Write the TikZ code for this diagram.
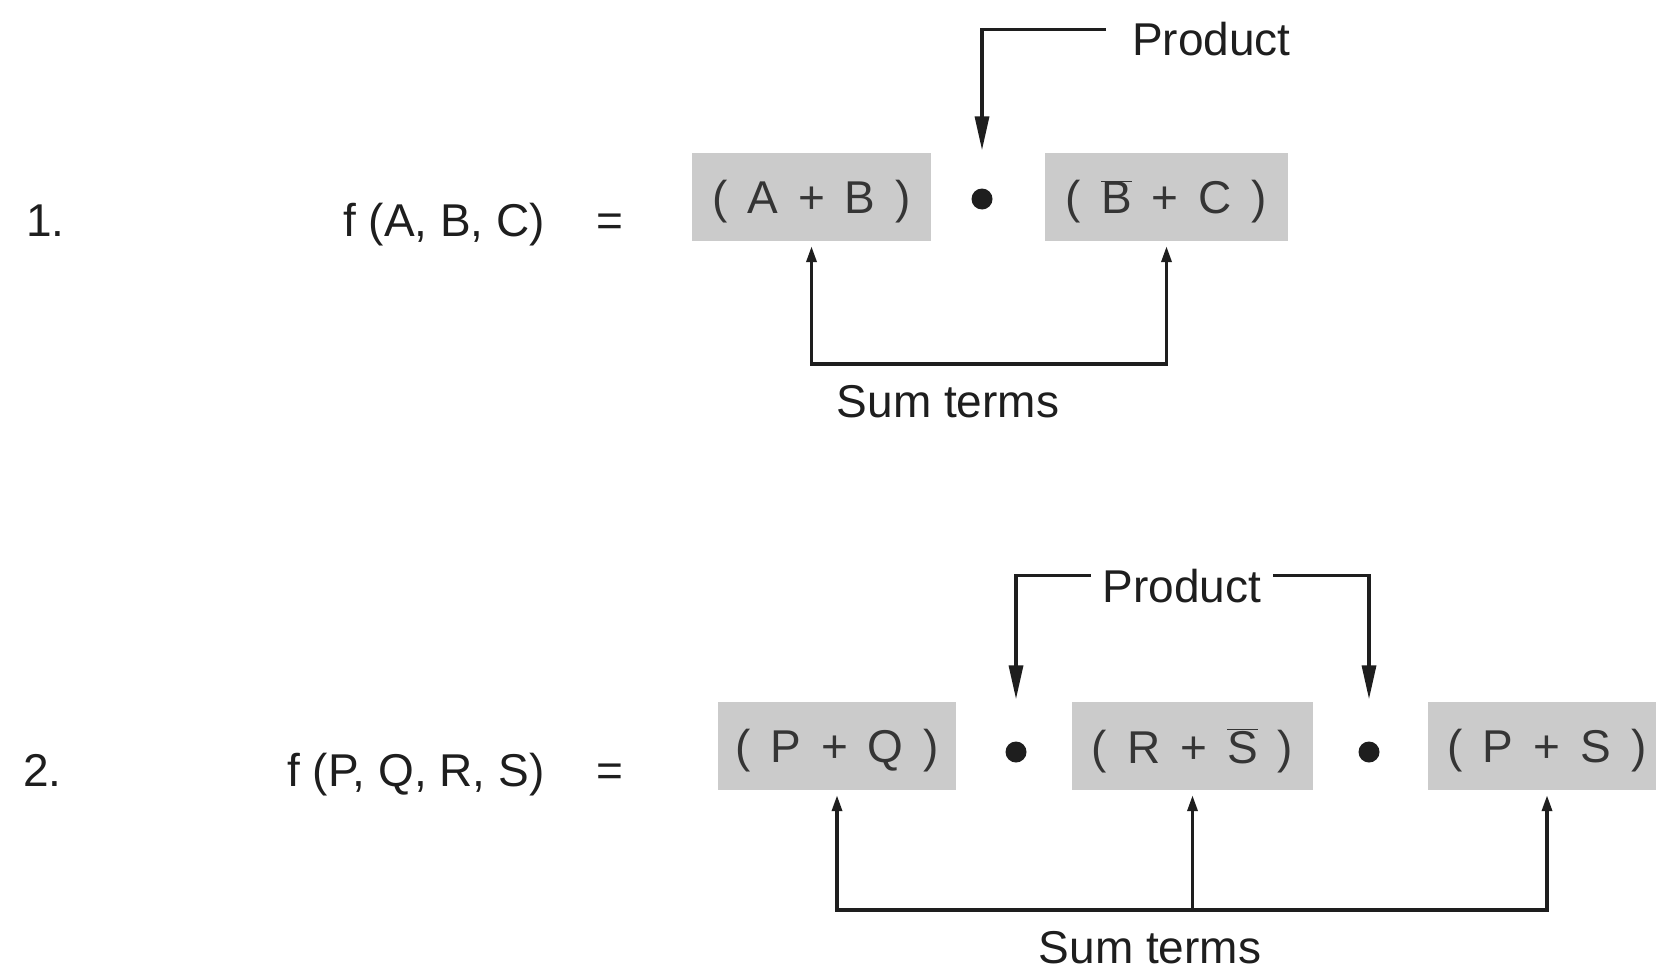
\documentclass[tikz,border=0pt]{standalone}
\usepackage{fontspec}
\setmainfont{Liberation Sans}
\usetikzlibrary{arrows.meta}
\definecolor{boxgray}{HTML}{CBCBCB}
\definecolor{ink}{HTML}{1E1E1E}
\newcommand{\tgap}{\hspace{20pt}}
\tikzset{
  lbl/.style={inner sep=0pt, text=ink, font=\fontsize{46}{50}\selectfont},
  termbox/.style={fill=boxgray, minimum height=88pt, inner sep=0pt, text depth=0pt, text=ink!90, font=\fontsize{46}{50}\selectfont},
  proddot/.style={circle, fill=ink, minimum size=21pt, inner sep=0pt},
  prodarrow/.style={draw=ink, line width=3.4pt, -{Triangle[length=34pt,width=14pt]}},
  sumboth/.style={draw=ink, line width=3.4pt, {Triangle[length=16pt,width=10pt]}-{Triangle[length=16pt,width=10pt]}, shorten <=5pt, shorten >=5pt},
  sumone/.style={draw=ink, line width=3.4pt, -{Triangle[length=16pt,width=10pt]}, shorten >=5pt},
}
\begin{document}
\begin{tikzpicture}[x=1pt,y=-1pt]
\useasboundingbox (0,0) rectangle (1656,974);
\clip (0,0) rectangle (1656,974);
\fill[white] (0,0) rectangle (1656,974);

% ---------- Row 1 ----------
\node[lbl, anchor=base west] (n1) at (26,236) {1.};
\node[lbl, anchor=base west] (f1) at (343,236) {f (A, B, C)};
\node[lbl, anchor=base] (e1) at (610,236) {=};
\node[termbox, minimum width=239pt] (b1) at (811.5,197) {(\tgap A\tgap +\tgap B\tgap )};
\node[proddot] (d1) at (982,199) {};
\node[termbox, minimum width=243pt] (b2) at (1166.5,197) {(\tgap $\overline{\mbox{B}}$\tgap +\tgap C\tgap )};
\node[lbl, anchor=base west, inner xsep=26pt] (p1) at (1106,56) {Product};
\draw[prodarrow, shorten >=38pt] ([yshift=10pt]p1.west) -| (d1.north);
\coordinate (s1) at (989,364);
\draw[sumboth] (b1.south) |- (s1) -| (b2.south);
\node[lbl, anchor=base] (st1) at (948,417) {Sum terms};

% ---------- Row 2 ----------
\node[lbl, anchor=base west] (n2) at (23,786) {2.};
\node[lbl, anchor=base west] (f2) at (287,786) {f (P, Q, R, S)};
\node[lbl, anchor=base] (e2) at (610,786) {=};
\node[termbox, minimum width=238pt] (c1) at (837,746) {(\tgap P\tgap +\tgap Q\tgap )};
\node[proddot] (d2) at (1016,752) {};
\node[termbox, minimum width=241pt] (c2) at (1192.5,746) {(\tgap R\tgap +\tgap $\overline{\mbox{S}}$\tgap )};
\node[proddot] (d3) at (1369,752) {};
\node[termbox, minimum width=238pt] (c3) at (1547,746) {(\tgap P\tgap +\tgap S\tgap )};
\node[lbl, anchor=base, inner xsep=12pt] (p2) at (1182,602) {Product};
\draw[prodarrow, shorten >=42pt] ([yshift=10pt]p2.west) -| (d2.north);
\draw[prodarrow, shorten >=42pt] ([yshift=10pt]p2.east) -| (d3.north);
\coordinate (s2) at (1192.5,910);
\draw[sumboth] (c1.south) |- (s2) -| (c3.south);
\draw[sumone] (s2) -- (c2.south);
\node[lbl, anchor=base] (st2) at (1150,963) {Sum terms};
\end{tikzpicture}
\end{document}
